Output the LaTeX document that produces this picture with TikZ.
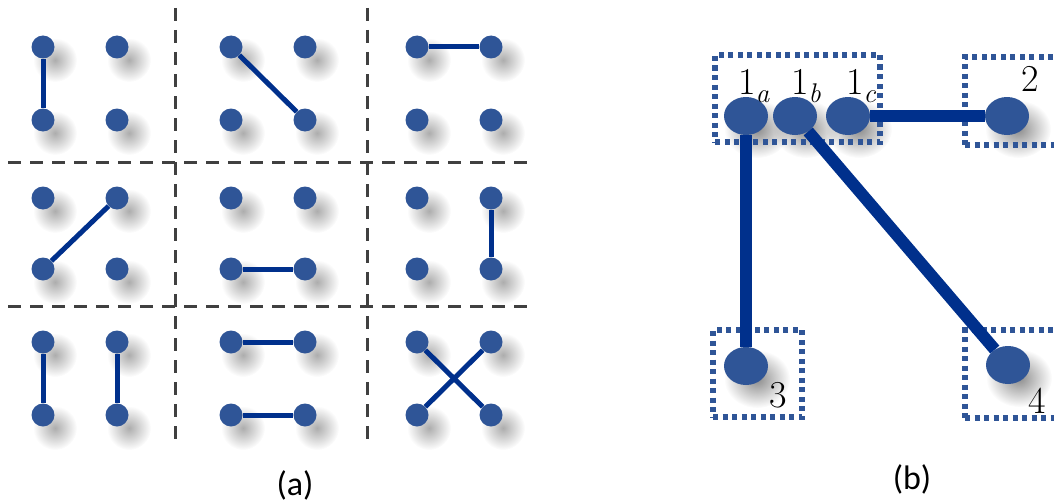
\documentclass[tikz,border=0pt]{standalone}
\usepackage{fontspec}
\newfontfamily\capfont{Carlito}
\usetikzlibrary{shapes.geometric,fadings}

\definecolor{dotblue}{HTML}{2F5597}
\definecolor{lnblue}{RGB}{0,48,140}
\definecolor{dashgray}{HTML}{404040}

\tikzfading[name=softshadow, inner color=transparent!0, outer color=transparent!100]

\newcommand{\subl}[1]{\raisebox{-0.22em}{\fontsize{27}{30}\selectfont\itshape #1}}

\tikzset{
  dot/.style={circle, fill=dotblue, minimum size=23pt, inner sep=0pt, draw=none},
  oval/.style={ellipse, fill=dotblue, minimum width=44pt, minimum height=38pt, inner sep=0pt},
  lk/.style={draw=lnblue, line width=5pt},
  lkb/.style={draw=lnblue, line width=12pt},
  gridline/.style={draw=dashgray, line width=3pt, dash pattern=on 13pt off 9pt},
  dbox/.style={draw=dotblue, line width=5.5pt, dash pattern=on 5pt off 4.5pt, inner sep=0pt},
  shadowblob/.style={fill=black, fill opacity=0.32, path fading=softshadow},
  shadowbig/.style={fill=black, fill opacity=0.45, path fading=softshadow},
  lab/.style={font=\fontsize{38}{42}\selectfont, inner sep=0pt},
  captext/.style={font=\capfont\fontsize{34}{40}\selectfont, inner sep=0pt},
}

\begin{document}
\begin{tikzpicture}[x=1pt,y=-1pt]
\useasboundingbox (0,0) rectangle (1054,503);
\clip (0,0) rectangle (1054,503);

% ---------- (a) grid lines ----------
\draw[gridline] (175,8) -- (175,445);
\draw[gridline] (367,8) -- (367,445);
\draw[gridline] (8,162) -- (530,162);
\draw[gridline] (8,306) -- (530,306);

% ---------- (a) dots ----------
\foreach \r/\yt/\yb in {1/47/120, 2/198/269, 3/342/415} {
  \foreach \c/\xl/\xr in {1/43/117, 2/231/305, 3/417/491} {
    \foreach \k/\x/\y in {tl/\xl/\yt, tr/\xr/\yt, bl/\xl/\yb, br/\xr/\yb} {
      \fill[shadowblob] (\x+12,\y+13) circle (22);
      \node[dot] (d\r\c\k) at (\x,\y) {};
    }
  }
}

% ---------- (a) links ----------
\draw[lk] (d11tl) -- (d11bl);
\draw[lk] (d12tl) -- (d12br);
\draw[lk] (d13tl) -- (d13tr);
\draw[lk] (d21bl) -- (d21tr);
\draw[lk] (d22bl) -- (d22br);
\draw[lk] (d23tr) -- (d23br);
\draw[lk] (d31tl) -- (d31bl);
\draw[lk] (d31tr) -- (d31br);
\draw[lk] (d32tl) -- (d32tr);
\draw[lk] (d32bl) -- (d32br);
\draw[lk] (d33tl) -- (d33br);
\draw[lk] (d33tr) -- (d33bl);

\node[captext] (capa) at (295,485) {(a)};

% ---------- (b) ----------
\foreach \x/\y in {746/116, 795/116, 848/116, 1007/116, 746/366, 1008/365} {
  \fill[shadowbig] (\x+11,\y+13) ellipse (33 and 29);
}

\node[dbox, minimum width=165pt, minimum height=87pt] (g1) at (797.5,98.5) {};
\node[dbox, minimum width=95pt, minimum height=88pt] (g2) at (1012.5,101) {};
\node[dbox, minimum width=89pt, minimum height=87pt] (g3) at (757.5,373.5) {};
\node[dbox, minimum width=95pt, minimum height=88pt] (g4) at (1012.5,374) {};

\node[oval] (n1a) at (746,116) {};
\node[oval] (n1b) at (795,116) {};
\node[oval] (n1c) at (848,116) {};
\node[oval] (n2) at (1007,116) {};
\node[oval] (n3) at (746,366) {};
\node[oval] (n4) at (1008,365) {};

\draw[lkb] (n1c) -- (n2);
\draw[lkb] (n1a) -- (n3);
\draw[lkb] (n1b) -- (n4);

\node[lab] (l1a) at (754,86) {1\subl{a}};
\node[lab] (l1b) at (806,86) {1\subl{b}};
\node[lab] (l1c) at (861,86) {1\subl{c}};
\node[lab] (l2) at (1030,79) {2};
\node[lab] (l3) at (778,395) {3};
\node[lab] (l4) at (1037,401) {4};

\node[captext] (capb) at (912,479) {(b)};
\end{tikzpicture}
\end{document}
